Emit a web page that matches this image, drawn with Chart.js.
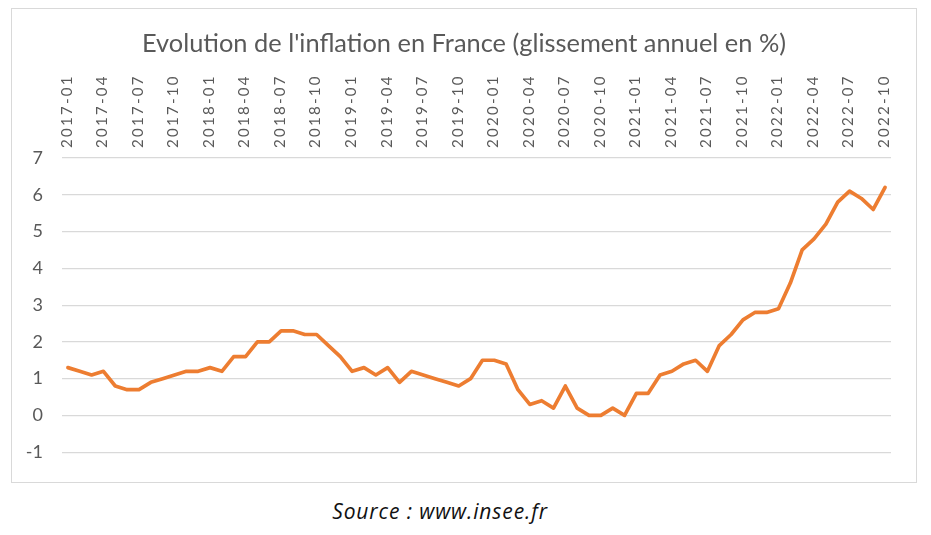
<!DOCTYPE html>
<html lang="fr">
<head>
<meta charset="utf-8">
<title>Evolution de l'inflation en France</title>
<script src="https://cdn.jsdelivr.net/npm/chart.js@4.4.0/dist/chart.umd.min.js"></script>
<style>
  html, body { margin: 0; padding: 0; background: #fff; }
  body { width: 931px; height: 535px; position: relative; overflow: hidden; }
  #box {
    position: absolute; left: 11px; top: 8px; width: 904px; height: 473px;
    border: 1px solid #d9d9d9;
  }
  #chart { position: absolute; left: 0; top: 0; }
  #title {
    position: absolute; left: 0; top: 21px; width: 904px; text-align: center;
    font-family: Lato, sans-serif; font-size: 25.4px; line-height: 25px;
    color: #595959; white-space: nowrap;
  }
  #source {
    position: absolute; left: 0; top: 501px; width: 880px; text-align: center;
    font-family: "Open Sans", sans-serif; font-style: italic; font-size: 21px; line-height: 21px;
    letter-spacing: 0.9px; color: #111;
  }
</style>
</head>
<body>
<div id="box">
  <canvas id="chart" width="904" height="473"></canvas>
  <div id="title">Evolution de l'inflation en France (glissement annuel en %)</div>
</div>
<div id="source">Source : www.insee.fr</div>
<script>
"use strict";

/*global Chart*/

var years = ['2017', '2018', '2019', '2020', '2021', '2022'],
    months = ['01', '02', '03', '04', '05', '06', '07', '08', '09', '10', '11', '12'];

// glissement annuel (%), par année
var infl2017 = [1.3, 1.2, 1.1, 1.2, 0.8, 0.7, 0.7, 0.9, 1.0, 1.1, 1.2, 1.2],
    infl2018 = [1.3, 1.2, 1.6, 1.6, 2.0, 2.0, 2.3, 2.3, 2.2, 2.2, 1.9, 1.6],
    infl2019 = [1.2, 1.3, 1.1, 1.3, 0.9, 1.2, 1.1, 1.0, 0.9, 0.8, 1.0, 1.5],
    infl2020 = [1.5, 1.4, 0.7, 0.3, 0.4, 0.2, 0.8, 0.2, 0.0, 0.0, 0.2, 0.0],
    infl2021 = [0.6, 0.6, 1.1, 1.2, 1.4, 1.5, 1.2, 1.9, 2.2, 2.6, 2.8, 2.8],
    infl2022 = [2.9, 3.6, 4.5, 4.8, 5.2, 5.8, 6.1, 5.9, 5.6, 6.2];

var yTicks = [-1, 0, 1, 2, 3, 4, 5, 6, 7];

var inflation = [].concat(infl2017, infl2018, infl2019, infl2020, infl2021, infl2022);

var labels = [];
years.forEach(function (y) {
    months.forEach(function (m) {
        if (labels.length < inflation.length) {
            labels.push(y + '-' + m);
        }
    });
});

var grey = '#595959';

// Excel draws the rotated month labels with wide spacing
var spacedLabels = {
    id: 'spacedLabels',
    beforeDraw: function (chart) {
        var xs = chart.scales.x;
        if (xs._spaced) {
            return;
        }
        var orig = xs.drawLabels;
        xs.drawLabels = function (area) {
            var ctx = chart.ctx;
            ctx.save();
            ctx.letterSpacing = '2.3px';
            orig.call(xs, area);
            ctx.restore();
        };
        xs._spaced = true;
    }
};

var chart = new Chart(document.getElementById('chart'), {
    type: 'line',
    data: {
        labels: labels,
        datasets: [{
            data: inflation,
            borderColor: '#ED7D31',
            borderWidth: 3.7,
            borderJoinStyle: 'round',
            borderCapStyle: 'round',
            pointRadius: 0,
            tension: 0,
            fill: false
        }]
    },
    options: {
        responsive: false,
        animation: false,
        devicePixelRatio: 1,
        layout: { padding: { left: 0, top: 0, right: 25, bottom: 25 } },
        plugins: {
            legend: { display: false },
            title: { display: false },
            tooltip: { enabled: false }
        },
        scales: {
            x: {
                position: 'top',
                offset: true,
                grid: { display: false, drawTicks: false },
                border: { display: false },
                afterFit: function (scale) { scale.height = 149; },
                ticks: {
                    autoSkip: false,
                    minRotation: 90,
                    maxRotation: 90,
                    padding: 10,
                    labelOffset: 17,
                    color: grey,
                    font: { family: 'Lato', size: 15 },
                    callback: function (value, index) {
                        return index % 3 === 0 ? labels[index] : '';
                    }
                }
            },
            y: {
                min: yTicks[0],
                max: yTicks[yTicks.length - 1],
                afterFit: function (scale) { scale.width = 50; },
                afterBuildTicks: function (scale) {
                    scale.ticks = yTicks.map(function (v) { return { value: v }; });
                },
                grid: { color: '#d9d9d9', lineWidth: 1.2, drawTicks: false },
                border: { display: false },
                ticks: {
                    padding: 19,
                    color: grey,
                    font: { family: 'Lato', size: 18 }
                }
            }
        }
    },
    plugins: [spacedLabels]
});
chart.update('none');
</script>
</body>
</html>
